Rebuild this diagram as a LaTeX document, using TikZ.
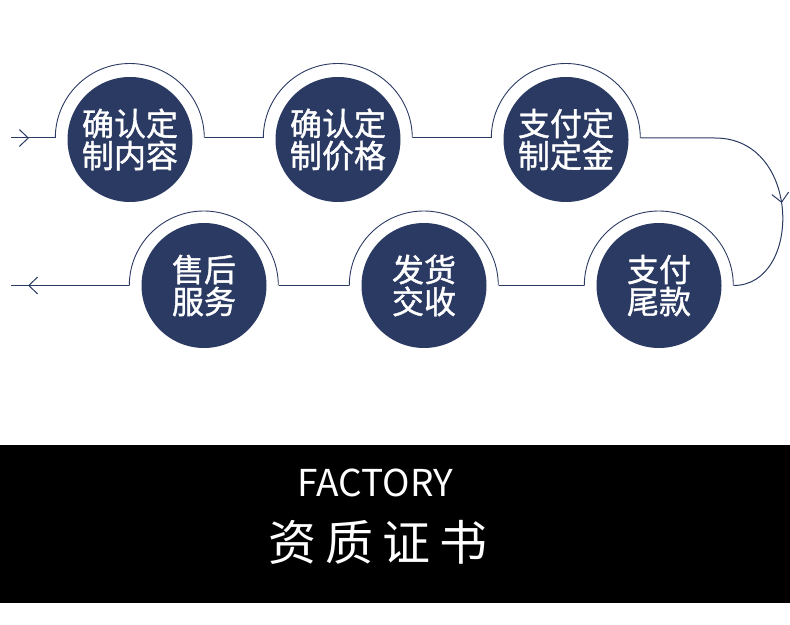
\documentclass[tikz,border=0pt]{standalone}
\usepackage{fontspec}
\setmainfont{Noto Sans CJK SC}
\newfontfamily\stepfont{Noto Sans CJK SC}[FakeBold=1.2]
\usetikzlibrary{arrows.meta,decorations.markings}
\definecolor{navy}{RGB}{43,58,99}
\tikzset{
  stepdisc/.style={circle, fill=navy, text=white, minimum size=125pt, inner sep=0pt, align=center, font=\fontsize{32}{32}\stepfont},
  ringzone/.style={circle, minimum size=149pt, inner sep=0pt},
  halfring/.style={navy, line width=0.9pt},
  flow/.style={navy, line width=1pt},
  chevron/.style={decoration={markings, mark=at position #1 with {\arrow{Straight Barb[length=9pt, width=17pt]}}}, postaction={decorate}},
}

\begin{document}
\begin{tikzpicture}[x=1pt, y=1pt]
  \useasboundingbox (0,0) rectangle (790,624);
  \coordinate (in) at (11,486);
  \coordinate (out) at (11,338.5);
  % upper row
  \node[ringzone] (r1) at (130,486) {};
  \node[ringzone] (r2) at (338,486) {};
  \node[ringzone] (r3) at (566,486) {};
  % lower row
  \node[ringzone] (r4) at (659,338.5) {};
  \node[ringzone] (r5) at (424,338.5) {};
  \node[ringzone] (r6) at (204,338.5) {};
  \foreach \r in {r1,r2,r3,r4,r5,r6}
    \draw[halfring] (\r.west) arc[start angle=180, end angle=0, radius=74.5pt];
  \node[stepdisc] (s1) at ([yshift=-1.5pt]r1) {确认定\\制内容};
  \node[stepdisc] (s2) at ([yshift=-1.5pt]r2) {确认定\\制价格};
  \node[stepdisc] (s3) at ([yshift=-1.5pt]r3) {支付定\\制定金};
  \node[stepdisc] (s4) at (r4) {支付\\尾款};
  \node[stepdisc] (s5) at (r5) {发货\\交收};
  \node[stepdisc] (s6) at (r6) {售后\\服务};
  \draw[flow, chevron=18pt] (in) -- (r1.west);
  \draw[flow] (r1.east) -- (r2.west);
  \draw[flow] (r2.east) -- (r3.west);
  \draw[flow, chevron=0.62] (r3.east) -- (715,486) .. controls (802,486) and (802,338.5) .. (r4.east);
  \draw[flow] (r4.west) -- (r5.east);
  \draw[flow] (r5.west) -- (r6.east);
  \draw[flow, chevron=-17pt] (r6.west) -- (out);
  % black band
  \fill[black] (0,21) rectangle (790,179);
  \node[anchor=base, text=white, font=\fontsize{37}{37}\selectfont] (factory) at (375.5,127) {FACTORY};
  \node[text=white, font=\fontsize{48}{48}\selectfont] (cert) at (378,82) {资\hspace{9pt}质\hspace{9pt}证\hspace{9pt}书};
\end{tikzpicture}
\end{document}
